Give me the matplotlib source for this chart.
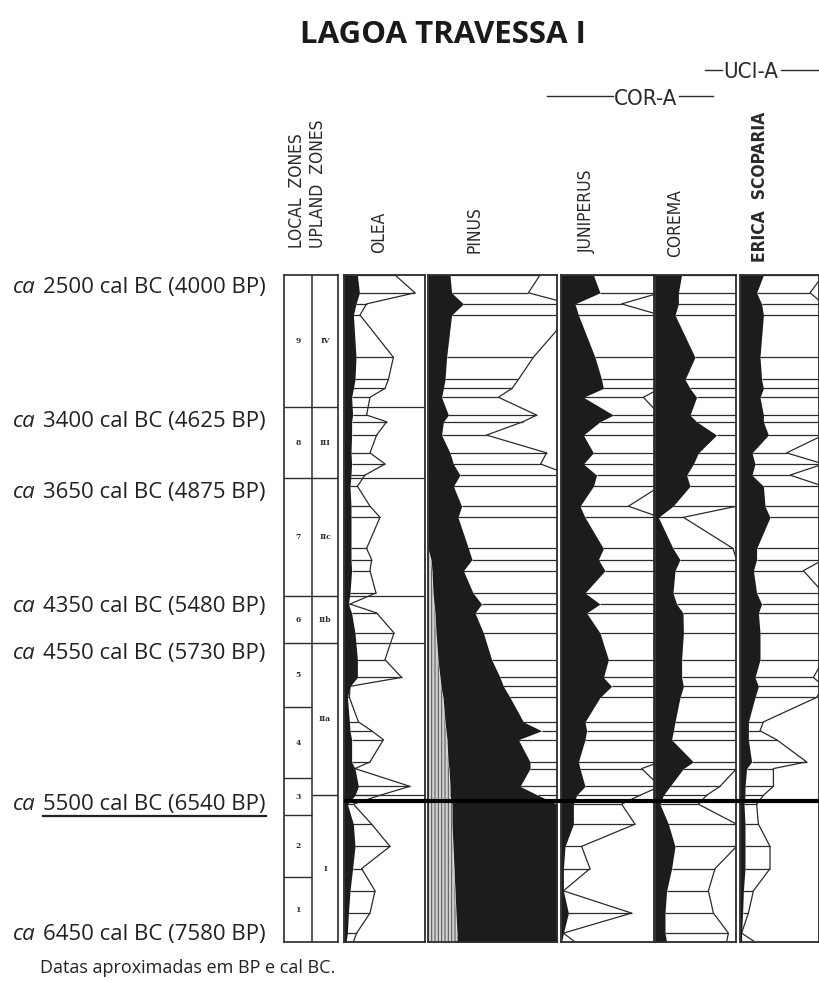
import numpy as np
import matplotlib.pyplot as plt
import matplotlib.transforms as mtransforms
from matplotlib.lines import Line2D

# sample depths (cm) shared by all taxa
depth = [0, 8, 13, 18, 37, 47, 51, 55, 63, 66, 72, 80, 85, 90, 95, 104, 109, 123, 128, 133,
         143, 148, 152, 161, 173, 181, 185, 190, 201, 205, 209, 219, 222, 230, 234, 238,
         247, 257, 267, 277, 287, 296, 300]

# pollen percentages (black curves) and exaggerated outlines
olea = [6.7, 7.7, 6.0, 4.7, 6.0, 5.5, 4.7, 3.8, 4.3, 3.8, 3.8, 3.5, 3.8, 3.5, 3.0, 3.5, 3.5, 3.5,
        3.5, 3.8, 3.0, 2.2, 3.8, 5.5, 6.7, 6.7, 3.0, 1.7, 2.7, 3.0, 3.8, 3.8, 5.5, 7.2, 5.5, 1.7,
        4.7, 5.5, 4.3, 3.0, 2.2, 1.7, 1.0]
olea_exag = [25.5, 35.5, 11.3, 8.0, 24.7, 22.2, 20.5, 13.0, 11.3, 21.3, 16.3, 13.0, 20.5, 10.5,
             6.7, 13.0, 18.0, 11.3, 13.8, 13.0, 16.0, 3.0, 16.3, 25.0, 20.5, 28.8, 3.0, 2.7, 7.2,
             13.8, 19.7, 13.0, 5.5, 33.0, 18.0, 4.7, 13.8, 23.0, 8.8, 15.5, 13.0, 6.3, 4.7]

pinus = [11.0, 11.8, 17.7, 11.8, 9.3, 8.5, 7.7, 6.8, 10.2, 7.7, 6.8, 11.0, 12.7, 16.0, 12.7, 16.8,
         15.0, 20.2, 22.0, 17.7, 22.5, 26.8, 23.5, 27.7, 31.8, 36.0, 37.7, 41.0, 47.7, 56.8, 45.2,
         51.0, 51.0, 46.0, 55.0, 64.5, 64.5, 64.5, 64.5, 64.5, 64.5, 64.5, 64.5]
pinus_exag = [56.0, 50.2, 71, 71, 52.7, 45.2, 42.0, 35.2, 54.3, 47.5, 29.3, 59.3, 56.3, 71, 71,
              71, 71, 71, 71, 71, 71, 71, 71, 71, 71, 71, 71, 71, 71, 71, 71, 71, 71, 71, 71, 71,
              71, 71, 71, 71, 71, 71, 71]
pinus_hatch = [0, 0, 0, 0, 0, 0, 0, 0, 0, 0, 0, 0, 0, 0, 0, 0, 0, 0.0, 1.5, 2, 2.5, 3, 3.5, 4, 5,
               6, 6.5, 7.5, 8.5, 9, 9.5, 10, 10.5, 11, 11, 12, 12, 12.5, 13, 13.5, 14, 14.5, 14.5]

juniperus = [16.2, 19.5, 7.0, 8.7, 17.0, 20.3, 21.2, 11.2, 26.2, 19.5, 11.2, 16.2, 11.2, 17.8,
             16.2, 9.5, 12.0, 21.2, 18.7, 22.0, 12.0, 19.5, 12.8, 19.5, 23.7, 21.2, 25.3, 19.5,
             12.0, 12.8, 12.0, 8.7, 9.5, 12.0, 7.8, 6.2, 6.2, 2.0, 1.2, 1.2, 3.7, 1.2, 0.3]
juniperus_exag = [49.5, 49.5, 30.3, 49.5, 49.5, 49.5, 49.5, 41.2, 49.5, 49.5, 49.5, 49.5, 49.5,
                  49.5, 49.5, 33.7, 49.5, 49.5, 49.5, 49.5, 49.5, 49.5, 49.5, 49.5, 49.5, 49.5,
                  49.5, 49.5, 49.5, 49.5, 49.5, 49.5, 40.3, 49.5, 39.5, 30.3, 37.0, 10.3, 14.5,
                  1.2, 35.3, 1.2, 7.0]

corema = [13.3, 11.7, 11.7, 10.0, 20.0, 15.0, 17.5, 20.8, 17.5, 20.8, 30.8, 21.7, 19.2, 15.8,
          17.5, 9.0, 1.7, 9.0, 12.5, 10.0, 9.0, 10.8, 14.0, 14.2, 13.3, 13.3, 14.2, 12.5, 10.0,
          9.2, 8.3, 19.2, 14.2, 7.5, 4.2, 2.5, 6.7, 10.0, 8.3, 5.8, 5.0, 5.0, 5.8]
corema_exag = [40.8, 40.8, 40.8, 40.8, 40.8, 40.8, 40.8, 40.8, 40.8, 40.8, 40.8, 40.8, 40.8,
               40.8, 40.8, 40.8, 14.2, 39.0, 40.8, 40.8, 40.8, 40.8, 40.8, 40.8, 40.8, 40.8,
               40.8, 40.8, 40.8, 40.8, 40.8, 40.8, 40.8, 32.5, 25.8, 21.7, 40.8, 40.8, 30.0,
               26.7, 29.2, 36.7, 35.8]

erica = [11.7, 8.3, 10.8, 11.7, 10.0, 10.8, 11.7, 10.0, 11.7, 11.7, 14.2, 6.0, 7.5, 6.0, 11.7,
         12.5, 15.0, 8.3, 8.3, 6.7, 8.3, 10.8, 9.2, 10.0, 10.0, 7.5, 9.2, 7.5, 4.2, 4.2, 4.2, 5.8,
         3.3, 2.5, 2.5, 2.0, 2.5, 2.5, 2.5, 1.7, 1.3, 0.8, 0.8]
erica_exag = [41.7, 35.0, 41.7, 41.7, 41.7, 41.7, 41.7, 41.7, 41.7, 41.7, 41.7, 23.3, 41.7, 25.0,
              41.7, 41.7, 41.7, 41.7, 41.7, 31.7, 41.7, 41.7, 41.7, 41.7, 41.7, 36.7, 41.7, 38.3,
              11.7, 10.0, 18.3, 33.3, 16.7, 16.7, 11.7, 8.3, 9.2, 15.0, 15.0, 6.7, 4.2, 0.8, 7.5]

# zonation
local_bounds = [0, 59.4, 91.3, 144.4, 165.6, 194.4, 226.3, 243.0, 270.9, 300]
local_labels = ["9", "8", "7", "6", "5", "4", "3", "2", "1"]
upland_bounds = [0, 59.4, 91.3, 144.4, 165.6, 234.0, 300]
upland_labels = ["IV", "III", "IIc", "IIb", "IIa", "I"]
event_depth = 236.7

date_depths = [8.1, 68.4, 100.4, 151.7, 172.8, 240.8, 299.3]
date_labels = ["2500 cal BC (4000 BP)", "3400 cal BC (4625 BP)", "3650 cal BC (4875 BP)",
               "4350 cal BC (5480 BP)", "4550 cal BC (5730 BP)", "5500 cal BC (6540 BP)",
               "6450 cal BC (7580 BP)"]

W, H = 819, 982
TOP, BOT = 275, 942
DARK = "#1c1c1c"
INK = "#2b2b2b"
SANS = ["Open Sans", "DejaVu Sans"]
NARROW = ["DejaVu Sans"]

plt.rcParams["hatch.linewidth"] = 0.7


def fx(x):
    return x / W


def fy(y):
    return 1 - y / H


def px_box(x0, x1):
    return [x0 / W, 1 - BOT / H, (x1 - x0) / W, (BOT - TOP) / H]


fig = plt.figure(figsize=(W / 100, H / 100), dpi=100)
d = np.array(depth)


def pollen_panel(x0, x1, black, exag, base=None):
    ax = fig.add_axes(px_box(x0, x1))
    xmax = (x1 - x0) / 2
    b = np.array(black)
    e = np.array(exag)
    left = np.zeros_like(b) if base is None else np.array(base, dtype=float)
    if base is not None:
        ax.fill_betweenx(d, 0, left, facecolor="#cfcfcf", edgecolor="#555555",
                         hatch="|||||", linewidth=0, zorder=3)
    ax.fill_betweenx(d, left, b, color=DARK, linewidth=0, zorder=3)
    ax.plot(e, d, color=INK, lw=0.9, zorder=2)
    ax.hlines(d, b, np.minimum(e, xmax), color=INK, lw=0.9, zorder=2)
    ax.set_xlim(0, xmax)
    ax.set_ylim(300, 0)
    ax.set_xticks([])
    ax.set_yticks([])
    for s in ax.spines.values():
        s.set_linewidth(1.3)
        s.set_color(INK)
        s.set_zorder(5)
    return ax


ax_olea = pollen_panel(344, 425, olea, olea_exag)
ax_olea.hlines([59.4, 91.3, 144.4, 165.6, 234.0], 0, 40.5, color=INK, lw=0.9, zorder=1)
pollen_panel(428, 557, pinus, pinus_exag, base=pinus_hatch)
pollen_panel(561, 654, juniperus, juniperus_exag)
pollen_panel(655, 736, corema, corema_exag)
pollen_panel(740, 819, erica, erica_exag)

# zone columns
axz = fig.add_axes(px_box(284, 338))
split = 0.52
axz.set_xlim(0, 1)
axz.set_ylim(300, 0)
axz.set_xticks([])
axz.set_yticks([])
for s in axz.spines.values():
    s.set_linewidth(1.2)
    s.set_color(INK)
axz.axvline(split, color=INK, lw=1.1)
axz.hlines(local_bounds[1:-1], 0, split, color=INK, lw=1.0)
axz.hlines(upland_bounds[1:-1], split, 1, color=INK, lw=1.0)
for lo, hi, lab in zip(local_bounds[:-1], local_bounds[1:], local_labels):
    axz.text(split / 2, (lo + hi) / 2, lab, ha="center", va="center", fontsize=5.5,
             fontweight="bold", family="DejaVu Serif", color=INK)
for lo, hi, lab in zip(upland_bounds[:-1], upland_bounds[1:], upland_labels):
    axz.text((1 + split) / 2, (lo + hi) / 2, lab, ha="center", va="center", fontsize=5.5,
             fontweight="bold", family="DejaVu Serif", color=INK)

# thick event line across the pollen panels
tr = mtransforms.blended_transform_factory(fig.transFigure, ax_olea.transData)
fig.add_artist(Line2D([fx(344), 1.0], [event_depth, event_depth], transform=tr,
                      color="black", lw=3.0, solid_capstyle="butt", zorder=10))

# date labels on the left
ax_lab = fig.add_axes(px_box(0, 280))
ax_lab.set_xlim(0, 280)
ax_lab.set_ylim(300, 0)
ax_lab.axis("off")
texts = []
for dd, lab in zip(date_depths, date_labels):
    ax_lab.text(13, dd, "ca", style="italic", fontsize=16, family=SANS, va="baseline",
                color="#222222")
    texts.append(ax_lab.text(43, dd, lab, fontsize=16, family=SANS, va="baseline",
                             color="#222222"))

fig.canvas.draw()
bb = texts[5].get_window_extent(fig.canvas.get_renderer())
fig.add_artist(Line2D([bb.x0 / W, bb.x1 / W], [(bb.y0 - 1) / H] * 2, color="#222222", lw=1.6))

# headers
fig.text(fx(443), fy(43), "LAGOA TRAVESSA I", ha="center", va="baseline", fontsize=22.5,
         fontweight="bold", family=SANS, color="#1a1a1a")
headers = [(297, 248, "LOCAL  ZONES", "normal", 12.5), (318, 248, "UPLAND  ZONES", "normal", 12.5),
           (379, 253, "OLEA", "normal", 12.5), (474, 253, "PINUS", "normal", 12.5),
           (587, 253, "JUNIPERUS", "normal", 12.5), (675, 257, "COREMA", "normal", 12.5),
           (760, 262, "ERICA  SCOPARIA", "bold", 12.5)]
for x, y, lab, wt, fs in headers:
    fig.text(fx(x), fy(y), lab, rotation=90, ha="center", va="bottom", fontsize=fs,
             fontweight=wt, fontstretch="condensed", family=NARROW, color="#2a2a2a")

fig.text(fx(646), fy(105), "COR-A", ha="center", va="baseline", fontsize=16, family=NARROW,
         fontstretch="condensed", color="#2a2a2a")
fig.add_artist(Line2D([fx(547), fx(613)], [fy(96)] * 2, color=INK, lw=1.0))
fig.add_artist(Line2D([fx(679), fx(713)], [fy(96)] * 2, color=INK, lw=1.0))
fig.text(fx(751), fy(78), "UCI-A", ha="center", va="baseline", fontsize=16, family=NARROW,
         fontstretch="condensed", color="#2a2a2a")
fig.add_artist(Line2D([fx(705), fx(722)], [fy(70)] * 2, color=INK, lw=1.0))
fig.add_artist(Line2D([fx(781), fx(819)], [fy(70)] * 2, color=INK, lw=1.0))

fig.text(fx(40), fy(973), "Datas aproximadas em BP e cal BC.", ha="left", va="baseline",
         fontsize=13, family=SANS, color="#222222")

fig.savefig("out.png", dpi=100)
